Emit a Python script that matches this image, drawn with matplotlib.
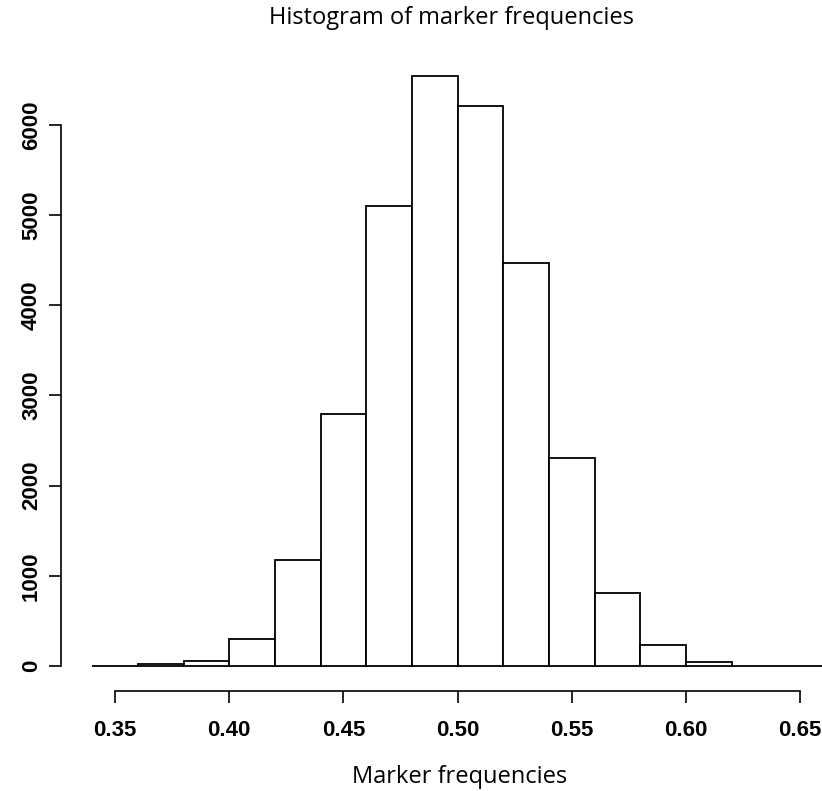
import numpy as np
import matplotlib.pyplot as plt

# bin edges and counts
bin_left = np.round(np.arange(0.34, 0.66, 0.02), 2)
counts = [0, 19, 59, 300, 1175, 2794, 5100, 6537, 6203, 4468, 2306, 809, 230, 41, 0, 0]
bin_width = 0.02
x_ticks = [0.35, 0.40, 0.45, 0.50, 0.55, 0.60, 0.65]
y_ticks = [0, 1000, 2000, 3000, 4000, 5000, 6000]

W, H = 822, 791
fig = plt.figure(figsize=(W / 100, H / 100), dpi=100)
ax = fig.add_axes([61 / W, 1 - 691 / H, (822 - 61) / W, (691 - 60) / H])

ax.bar(bin_left, counts, width=bin_width, align="edge", color="white",
       edgecolor="black", linewidth=1.3, clip_on=False)

ax.set_xlim(0.32635, 0.6596)
ax.set_ylim(-277, 6718)

for s in ["top", "right"]:
    ax.spines[s].set_visible(False)
ax.spines["left"].set_bounds(0, 6000)
ax.spines["bottom"].set_bounds(0.35, 0.65)
ax.spines["left"].set_linewidth(1.2)
ax.spines["bottom"].set_linewidth(1.2)

tick_font = dict(family="Liberation Sans", weight="bold", size=16)
ax.set_xticks(x_ticks)
ax.set_xticklabels([f"{v:.2f}" for v in x_ticks], fontdict=tick_font)
ax.set_yticks(y_ticks)
ax.set_yticklabels([str(v) for v in y_ticks], fontdict=tick_font,
                   rotation=90, va="center")
ax.tick_params(axis="both", length=8.6, width=1.2)
ax.tick_params(axis="x", pad=12)
ax.tick_params(axis="y", pad=5)

fig.text(451 / W, 1 - 18 / H, "Histogram of marker frequencies",
         ha="center", va="center", family="Open Sans", size=17)
fig.text(460 / W, 1 - 777 / H, "Marker frequencies",
         ha="center", va="center", family="Open Sans", size=17)

fig.savefig("out.png", dpi=100)
